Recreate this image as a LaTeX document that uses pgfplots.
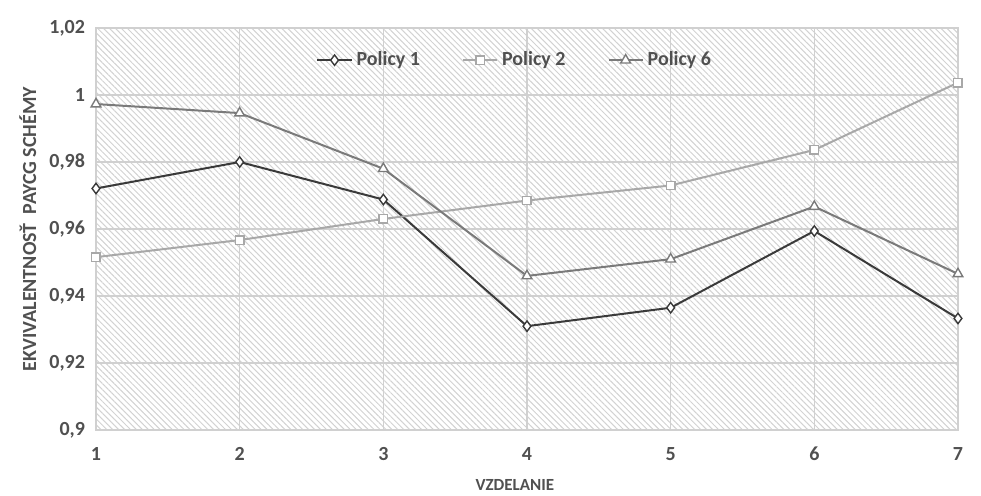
\documentclass[border=0pt]{standalone}
\usepackage{fontspec}
\setmainfont{Carlito}
\usepackage{pgfplots}
\pgfplotsset{compat=1.18}
\usetikzlibrary{patterns.meta}
\definecolor{txt}{HTML}{505050}
\definecolor{gridc}{HTML}{D0D0D0}
\definecolor{hatch}{HTML}{D2D2D2}
\definecolor{pone}{HTML}{3A3A3A}
\definecolor{ptwo}{HTML}{A8A8A8}
\definecolor{psix}{HTML}{7A7A7A}
\begin{document}
\begin{tikzpicture}
\useasboundingbox (-48pt,-32.5pt) rectangle (442.5pt,215pt);
\begin{axis}[
  scale only axis,
  width=431pt, height=201pt,
  xmin=1, xmax=7, ymin=0.9, ymax=1.02,
  xtick={1,...,7},
  ytick={0.9,0.92,0.94,0.96,0.98,1,1.02},
  yticklabels={0{,}9,0{,}92,0{,}94,0{,}96,0{,}98,1,1{,}02},
  /pgf/number format/assume math mode=true,
  grid=major,
  major grid style={gridc, line width=0.8pt},
  axis line style={draw=gridc, line width=0.8pt},
  major tick length=0pt,
  tick label style={font=\fontsize{10}{12}\selectfont\bfseries, text=txt},
  yticklabel style={xshift=-2pt},
  xticklabel style={yshift=-5pt},
  axis background/.style={pattern={Lines[angle=-45, distance=2.1pt, line width=0.5pt]}, pattern color=hatch},
  xlabel={VZDELANIE},
  ylabel={EKVIVALENTNOSŤ\ \ PAYCG SCHÉMY},
  xlabel style={font=\fontsize{8.5}{10}\selectfont\bfseries, text=txt, at={(axis description cs:0.486,0)}, anchor=center, yshift=-27.5pt},
  ylabel style={font=\fontsize{10}{12}\selectfont\bfseries, text=txt, at={(axis description cs:-0.079,0.5)}, anchor=center},
  legend columns=3,
  legend style={at={(0.487,0.92)}, anchor=center, draw=none, fill=none,
    font=\fontsize{10}{12}\selectfont\bfseries, text=txt,
    /tikz/every even column/.append style={column sep=19pt}},
]
\addplot[pone, line width=1pt, mark=diamond*, mark size=2.6pt, mark options={fill=white, line width=0.7pt}]
  coordinates {(1,0.9721) (2,0.9800) (3,0.9688) (4,0.9310) (5,0.9365) (6,0.9594) (7,0.9333)};
\addlegendentry{Policy 1}
\addplot[ptwo, line width=1pt, mark=square*, mark size=2.1pt, mark options={fill=white, line width=0.7pt}]
  coordinates {(1,0.9516) (2,0.9567) (3,0.9630) (4,0.9685) (5,0.9730) (6,0.9836) (7,1.0037)};
\addlegendentry{Policy 2}
\addplot[psix, line width=1pt, mark=triangle*, mark size=2.8pt, mark options={fill=white, line width=0.7pt}]
  coordinates {(1,0.9973) (2,0.9946) (3,0.9780) (4,0.9460) (5,0.9510) (6,0.9667) (7,0.9466)};
\addlegendentry{Policy 6}
\end{axis}
\end{tikzpicture}
\end{document}
